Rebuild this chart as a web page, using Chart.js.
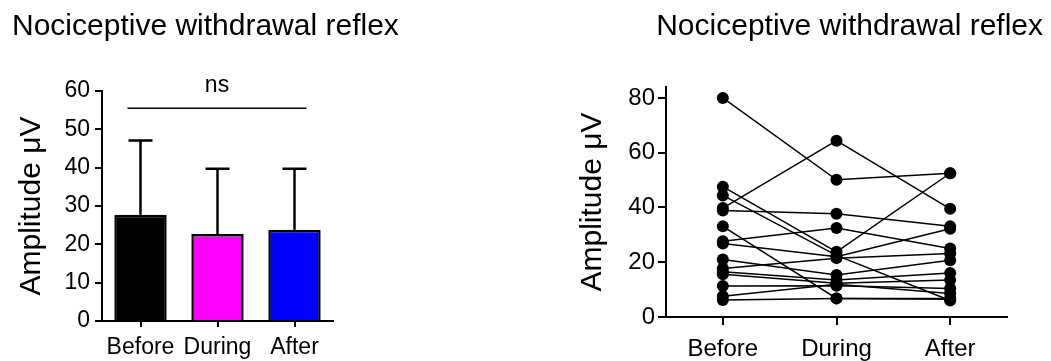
<!DOCTYPE html>
<html>
<head>
<meta charset="utf-8">
<script src="https://cdn.jsdelivr.net/npm/chart.js@4.4.0/dist/chart.umd.min.js"></script>
<style>
html, body { margin: 0; padding: 0; background: #fff; overflow: hidden; width: 1051px; height: 361px; }
#left  { position: absolute; left: 0; top: 0; }
#right { position: absolute; left: 520px; top: 0; }
</style>
</head>
<body>
<canvas id="left" width="520" height="380"></canvas>
<canvas id="right" width="531" height="380"></canvas>
<script>
// datos del panel izquierdo (media + DE)
const groups   = ['Before', 'During', 'After'];
const barMeans = [27.7, 22.7, 23.8];
const barSD    = [19.4, 17.0, 15.9];
const barColors = ['#000000', '#FF00FF', '#0000FF'];
const nsLevel  = 55.5;
const yTicksLeft = [0, 10, 20, 30, 40, 50, 60];

// datos pareados del panel derecho, un sujeto por índice
const before = [80, 39.8, 38.9, 47.6, 44.4, 33.1, 27.7, 26.8, 21.0, 17.7, 16.5, 15.6, 11.3, 7.6, 6.2];
const during = [50.1, 64.4, 37.7, 23.8, 22.5, 6.8, 32.5, 22.0, 15.3, 21.5, 13.5, 12.3, 11.4, 12.0, 6.8];
const after  = [52.5, 39.5, 33.1, 52.5, 6.0, 6.8, 25.0, 32.2, 20.7, 23.2, 16.1, 13.5, 10.4, 8.6, 6.5];
const yTicksRight = [0, 20, 40, 60, 80];

const titleText = 'Nociceptive withdrawal reflex';
const yTitle = 'Amplitude \u03BCV';

Chart.defaults.font.family = '"Liberation Sans", Arial, sans-serif';
Chart.defaults.color = '#000';
Chart.defaults.animation = false;

// barras de error y la línea "ns"
const errorBars = {
    id: 'errorBars',
    afterDatasetsDraw(chart) {
        const { ctx, scales: { x, y } } = chart;
        const meta = chart.getDatasetMeta(0);
        ctx.save();
        ctx.strokeStyle = '#000';
        ctx.lineWidth = 2.5;
        meta.data.forEach((bar, i) => {
            const top = y.getPixelForValue(barMeans[i] + barSD[i]);
            ctx.beginPath();
            ctx.moveTo(bar.x, bar.y);
            ctx.lineTo(bar.x, top);
            ctx.moveTo(bar.x - 12, top);
            ctx.lineTo(bar.x + 12, top);
            ctx.stroke();
        });
        const x0 = x.getPixelForValue(0) - 13;
        const x1 = x.getPixelForValue(2) + 12;
        const yl = y.getPixelForValue(nsLevel);
        ctx.lineWidth = 1.5;
        ctx.beginPath();
        ctx.moveTo(x0, yl);
        ctx.lineTo(x1, yl);
        ctx.stroke();
        ctx.fillStyle = '#000';
        ctx.font = '23px "Liberation Sans", Arial, sans-serif';
        ctx.textAlign = 'center';
        ctx.textBaseline = 'alphabetic';
        ctx.fillText('ns', (x0 + x1) / 2, yl - 16);
        ctx.restore();
    }
};

const axisGrid = (len) => ({ drawOnChartArea: false, drawTicks: true, tickLength: len, color: '#000', lineWidth: 2, offset: false });
const axisBorder = { display: true, color: '#000', width: 2 };
// eje vacío para dejar hueco a la derecha sin recortar el título
const spacer = (w) => ({
    position: 'right',
    grid: { display: false },
    border: { display: false },
    ticks: { display: false },
    afterFit: s => { s.width = w; }
});

new Chart(document.getElementById('left'), {
    type: 'bar',
    data: {
        labels: groups,
        datasets: [{
            data: barMeans,
            backgroundColor: barColors,
            borderColor: '#000',
            borderWidth: 2.5,
            categoryPercentage: 1,
            barPercentage: 0.68
        }]
    },
    options: {
        responsive: false,
        layout: { padding: { left: 12, right: 0, top: 0, bottom: 11 } },
        plugins: {
            legend: { display: false },
            tooltip: { enabled: false },
            title: {
                display: true, text: titleText, align: 'start',
                font: { size: 30, weight: 'normal' },
                padding: { top: 9, bottom: 46 }
            }
        },
        scales: {
            x: {
                grid: axisGrid(6),
                border: axisBorder,
                ticks: { font: { size: 23, lineHeight: 1 }, padding: 9.5 }
            },
            y: {
                min: 0, max: 60,
                grid: axisGrid(7),
                border: axisBorder,
                ticks: { font: { size: 23 }, padding: 5 },
                afterBuildTicks: s => { s.ticks = yTicksLeft.map(v => ({ value: v })); },
                title: { display: true, text: yTitle, font: { size: 30 }, padding: { top: 2, bottom: 0 } },
                afterFit: s => { s.width = 90; }
            },
            pad: spacer(187)
        }
    },
    plugins: [errorBars]
});

const pairedSets = before.map((b, i) => ({
    data: [b, during[i], after[i]],
    borderColor: '#000',
    backgroundColor: '#000',
    borderWidth: 1.5,
    pointRadius: 6,
    pointBorderWidth: 0,
    pointBackgroundColor: '#000',
    clip: false
}));

new Chart(document.getElementById('right'), {
    type: 'line',
    data: { labels: groups, datasets: pairedSets },
    options: {
        responsive: false,
        layout: { padding: { left: 48, right: 8, top: 0, bottom: 7 } },
        plugins: {
            legend: { display: false },
            tooltip: { enabled: false },
            title: {
                display: true, text: titleText, align: 'end',
                font: { size: 30, weight: 'normal' },
                padding: { top: 9, bottom: 42 }
            }
        },
        scales: {
            x: {
                offset: true,
                grid: axisGrid(8),
                border: axisBorder,
                ticks: { font: { size: 24, lineHeight: 1 }, padding: 12 }
            },
            y: {
                min: 0, max: 84,
                grid: axisGrid(8),
                border: axisBorder,
                ticks: { font: { size: 24 }, padding: 3 },
                afterBuildTicks: s => { s.ticks = yTicksRight.map(v => ({ value: v })); },
                title: { display: true, text: yTitle, font: { size: 30 }, padding: { top: 7, bottom: 0 } },
                afterFit: s => { s.width = 98; }
            },
            pad: spacer(36)
        }
    }
});
</script>
</body>
</html>
